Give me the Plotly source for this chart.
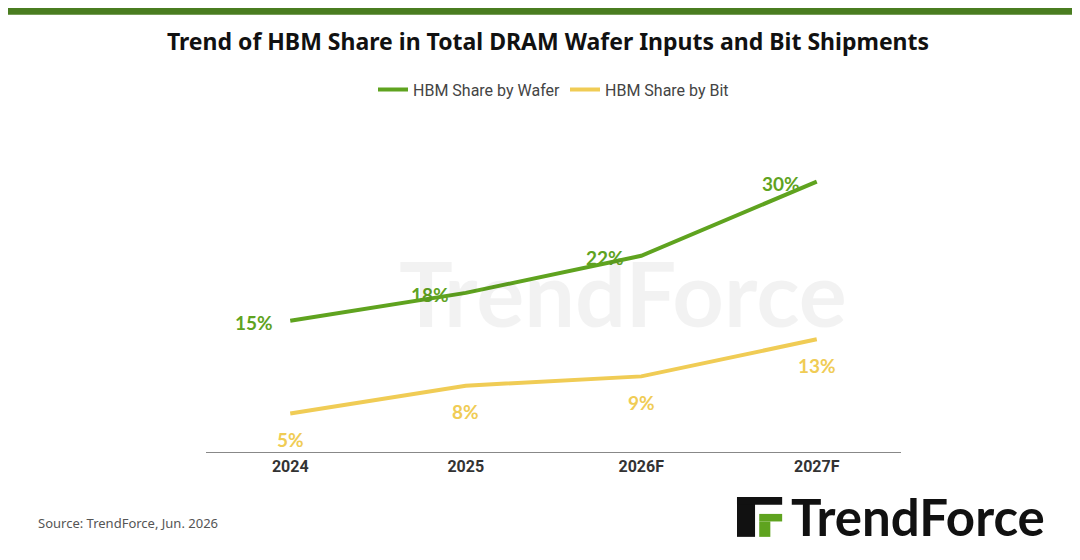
import plotly.graph_objects as go

years = ["2024", "2025", "2026F", "2027F"]
wafer = [15, 18, 22, 30]
bit = [5, 8, 9, 13]
wafer_labels = ["15%", "18%", "22%", "30%"]
bit_labels = ["5%", "8%", "9%", "13%"]

green = "#5fa31f"
yellow = "#f0cc55"

fig = go.Figure()
fig.add_trace(go.Scatter(x=years, y=wafer, mode="lines", name="HBM Share by Wafer",
                         line=dict(color=green, width=4)))
fig.add_trace(go.Scatter(x=years, y=bit, mode="lines", name="HBM Share by Bit",
                         line=dict(color=yellow, width=4)))

anns = []
for i, (y, t) in enumerate(zip(wafer, wafer_labels)):
    anns.append(dict(x=i, y=y, text=t, showarrow=False, xshift=-36, yshift=-2,
                     font=dict(family="Lato", size=19, color=green, weight="bold")))
for i, (y, t) in enumerate(zip(bit, bit_labels)):
    anns.append(dict(x=i, y=y, text=t, showarrow=False, xshift=0, yshift=-26,
                     font=dict(family="Lato", size=19, color=yellow, weight="bold")))
anns += [
    dict(text="TrendForce", xref="paper", yref="paper", x=0.6, y=0.53, showarrow=False,
         font=dict(family="Lato", size=90, color="rgba(0,0,0,0.05)", weight="bold")),
    dict(text="Source: TrendForce, Jun. 2026", xref="paper", yref="paper", x=-0.245, y=-0.235,
         xanchor="left", yanchor="middle", showarrow=False,
         font=dict(family="Noto Sans", size=13, color="#555")),
    dict(text="<b>TrendForce</b>", xref="paper", yref="paper", x=1.21, y=-0.215,
         xanchor="right", yanchor="middle", showarrow=False,
         font=dict(family="Lato", size=51, color="#111")),
]

fig.update_layout(
    width=1080, height=560, plot_bgcolor="white", paper_bgcolor="white",
    margin=dict(l=198, r=187, t=142, b=116),
    title=dict(text="<b>Trend of HBM Share in Total DRAM Wafer Inputs and Bit Shipments</b>",
               x=0.5, xanchor="center", y=0.94, yanchor="middle",
               font=dict(family="Noto Sans", size=23, color="#111")),
    legend=dict(orientation="h", x=0.5, xanchor="center", y=1.2, yanchor="middle",
                font=dict(family="Roboto", size=16, color="#444")),
    xaxis=dict(range=[-0.48, 3.48], showgrid=False, showline=True, linecolor="#888",
               linewidth=1, ticks="", tickfont=dict(family="Roboto", size=16, color="#333", weight="bold")),
    yaxis=dict(range=[0.85, 33.4], visible=False),
    shapes=[dict(type="rect", xref="paper", yref="paper", x0=-0.4, x1=1.4, y0=1.448, y1=1.48,
                 fillcolor="#4a7d20", line_width=0, layer="above"),
            dict(type="rect", xref="paper", yref="paper", x0=0.764, x1=0.79, y0=-0.281, y1=-0.149,
                 fillcolor="#111", line_width=0),
            dict(type="rect", xref="paper", yref="paper", x0=0.764, x1=0.829, y0=-0.175, y1=-0.149,
                 fillcolor="#111", line_width=0),
            dict(type="rect", xref="paper", yref="paper", x0=0.796, x1=0.829, y0=-0.23, y1=-0.205,
                 fillcolor=green, line_width=0),
            dict(type="rect", xref="paper", yref="paper", x0=0.796, x1=0.812, y0=-0.281, y1=-0.23,
                 fillcolor=green, line_width=0)],
    annotations=anns,
)
fig.write_html("out.html")
